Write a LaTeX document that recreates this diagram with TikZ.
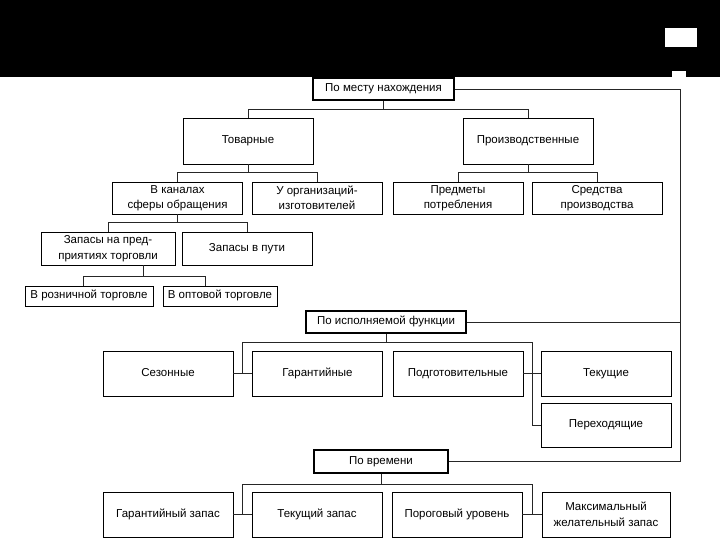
\documentclass[tikz,border=0pt]{standalone}
\usepackage{fontspec}
\setmainfont{Liberation Sans}
\usetikzlibrary{calc}

\tikzset{
  twoline/.style={shape=rectangle,draw=black,align=center,line width=0.8pt,inner sep=1pt,
    minimum width=130pt,minimum height=46pt,font=\fontsize{11.5}{15.5}\selectfont},
  box/.style={twoline,text height=8.5pt,text depth=3pt},
  headbox/.style={box,line width=2pt,minimum height=22pt},
  link/.style={draw=black!85,line width=0.6pt},
}

\begin{document}
\begin{tikzpicture}[x=1pt,y=-1pt]
\useasboundingbox (0,0) rectangle (720,540);
\fill[black] (0,0) rectangle (720,77);
\fill[white] (665,28) rectangle (697,47);
\fill[white] (672,71) rectangle (686,77);

\node[headbox,minimum width=141pt] (0) at (383.5,89) {По месту нахождения};
\node[box] (1) at (248,141) {Товарные};
\node[box] (2) at (528,141) {Производственные};
\node[twoline,minimum height=32pt] (3) at (177.5,198) {В каналах\\сферы обращения};
\node[twoline,minimum height=32pt] (4) at (317,198) {У организаций-\\изготовителей};
\node[twoline,minimum height=32pt] (5) at (458,198) {Предметы\\потребления};
\node[twoline,minimum height=32pt] (6) at (597,198) {Средства\\производства};
\node[twoline,minimum width=134pt,minimum height=33pt] (7) at (108,248.5) {Запасы на пред-\\приятиях торговли};
\node[box,minimum height=33pt] (8) at (247,248.5) {Запасы в пути};
\node[box,minimum width=128pt,minimum height=20pt] (9) at (89,296) {В розничной торговле};
\node[box,minimum width=114pt,minimum height=20pt] (10) at (220,296) {В оптовой торговле};

\node[headbox,minimum width=160pt] (11) at (386,322) {По исполняемой функции};
\node[box,minimum height=45pt] (12) at (168,373.5) {Сезонные};
\node[box,minimum height=45pt] (13) at (317.5,373.5) {Гарантийные};
\node[box,minimum height=45pt] (14) at (458,373.5) {Подготовительные};
\node[box,minimum height=45pt] (15) at (606,373.5) {Текущие};
\node[box,minimum height=44pt] (16) at (606,425) {Переходящие};

\node[headbox,minimum width=134pt,minimum height=23pt] (17) at (381,461.5) {По времени};
\node[box,minimum height=45pt] (18) at (168,514.5) {Гарантийный запас};
\node[box,minimum height=45pt] (19) at (317,514.5) {Текущий запас};
\node[box,minimum height=45pt] (20) at (457,514.5) {Пороговый уровень};
\node[twoline,minimum width=128pt,minimum height=45pt] (21) at (606,514.5) {Максимальный\\желательный запас};

% tree under "По месту нахождения"
\draw[link] (0.south) -- ++(0,8) coordinate (t0);
\draw[link] (t0) -| (1.north);
\draw[link] (t0) -| (2.north);
\draw[link] (1.south) -- ++(0,8) coordinate (t1);
\draw[link] (t1) -| (3.north);
\draw[link] (t1) -| (4.north);
\draw[link] (2.south) -- ++(0,8) coordinate (t2);
\draw[link] (t2) -| (5.north);
\draw[link] (t2) -| (6.north);
\draw[link] (3.south) -- ++(0,8) coordinate (t3);
\draw[link] (t3) -| (7.north);
\draw[link] (t3) -| (8.north);
\draw[link] ([xshift=35pt]7.south) -- ++(0,11) coordinate (t7);
\draw[link] (t7) -| ([xshift=-6pt]9.north);
\draw[link] (t7) -| ([xshift=-15pt]10.north);

% row "По исполняемой функции"
\draw[link] (11.south) -- ++(0,8) coordinate (f0);
\coordinate (f1) at ($(12.east)!0.5!(13.west)$);
\coordinate (f2) at ($(14.east)!0.5!(15.west)$);
\draw[link] (f1) -- (f1 |- f0) -- (f2 |- f0) -- (f2 |- 16.west) -- (16.west);
\draw[link] (12.east) -- (13.west);
\draw[link] (14.east) -- (15.west);

% row "По времени"
\draw[link] (17.south) -- ++(0,10) coordinate (g0);
\coordinate (g1) at ($(18.east)!0.5!(19.west)$);
\coordinate (g2) at ($(20.east)!0.5!(21.west)$);
\draw[link] (g1) -- (g1 |- g0) -- (g2 |- g0) -- (g2);
\draw[link] (18.east) -- (19.west);
\draw[link] (20.east) -- (21.west);

% frame on the right
\coordinate (r) at (680,0);
\draw[link] (0.east) -| (17.east -| r) -- (17.east);
\draw[link] (11.east) -- (11.east -| r);
\end{tikzpicture}
\end{document}
